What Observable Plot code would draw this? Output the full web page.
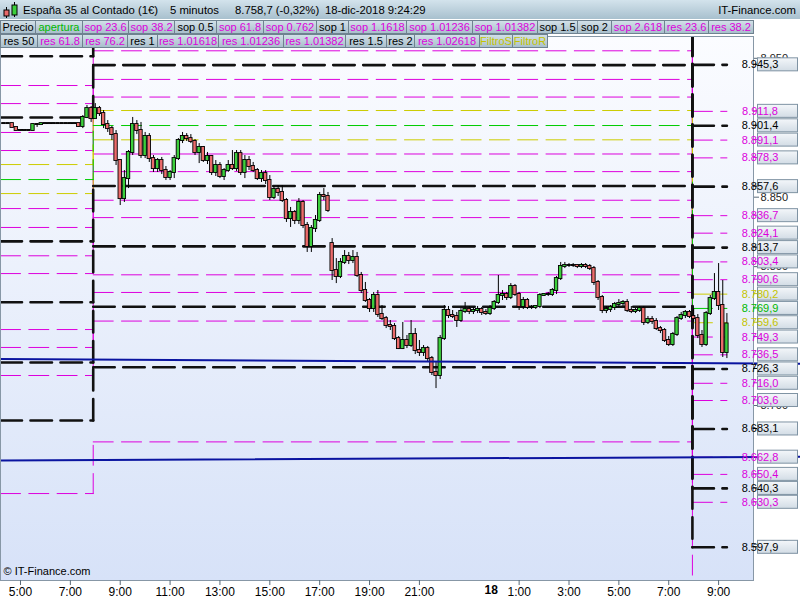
<!DOCTYPE html>
<html>
<head>
<meta charset="utf-8">
<script src="https://cdn.jsdelivr.net/npm/d3@7"></script>
<script src="https://cdn.jsdelivr.net/npm/@observablehq/plot@0.6"></script>
<style>
  html,body{margin:0;padding:0;background:#fff;}
  #wrap{position:relative;width:800px;height:600px;overflow:hidden;font-family:"Liberation Sans",Arial,sans-serif;}
  #chart{position:absolute;left:0;top:0;}
  #title{position:absolute;left:0;top:0;width:800px;height:19px;background:linear-gradient(#d3e3ec,#a8c0ce);color:#000;font-size:11.3px;}
  #title span{position:absolute;top:3px;line-height:15px;white-space:nowrap;}
  .box{position:absolute;box-sizing:border-box;height:14px;border:1px solid #6f8290;background:linear-gradient(#d2e0e8,#a9bfcc);font-size:11px;line-height:12px;text-align:center;white-space:nowrap;overflow:hidden;}
</style>
</head>
<body>
<div id="wrap">
  <div id="chart"></div>
  <div id="title">
    <svg width="20" height="19" style="position:absolute;left:2px;top:0">
      <line x1="4.5" y1="7" x2="4.5" y2="18" stroke="#000"/>
      <rect x="2" y="10" width="5" height="6" fill="#e86a6a" stroke="#000"/>
      <line x1="12.5" y1="2" x2="12.5" y2="17" stroke="#000"/>
      <rect x="10" y="5" width="5" height="10" fill="#3ccf3c" stroke="#000"/>
    </svg>
    <span style="left:23px">España 35 al Contado (1€)</span>
    <span style="left:170px">5 minutos</span>
    <span style="left:235px">8.758,7 (-0,32%)</span>
    <span style="left:325px">18-dic-2018 9:24:29</span>
    <span style="right:4px">IT-Finance.com</span>
  </div>
</div>
<script>
// ---------------- DATA ----------------
// pre-market 10-minute bars, from 04:20 on the 17th
const preStart = "17 04:20";
const preOpen  = [8903,8903,8903,8900.2,8898,8898,8898,8898,8902.3,8902.3,8903,8903,8903,8903,8903,8903,8903,8903,8903,8900.9,8907.4,8913.8];
const preHigh  = [8903,8903,8903,8900.2,8898,8898,8898,8903,8903,8903,8903,8903,8903,8903,8903,8903,8903,8903,8903,8908.8,8916,8915.3];
const preLow   = [8903,8903,8900.2,8898,8898,8898,8898,8898,8900.2,8902.3,8903,8903,8903,8903,8903,8903,8903,8903,8900.2,8899.4,8906.6,8903.8];
const preClose = [8903,8903,8900.2,8898,8898,8898,8898,8902.3,8902.3,8903,8903,8903,8903,8903,8903,8903,8903,8903,8900.9,8907.4,8913.8,8906.6];

// session 10-minute bars, from 08:00 on the 17th to 09:20 on the 18th
const sesStart = "17 08:00";
const sesOpen = [8906.6,8913.8,8910.2,8902.3,8899.4,8895.1,8876.4,8849.0,8863.4,8882.2,8902.3,8898.0,8880.0,8893.7,8877.8,8870.6,8876.4,8869.2,8864.2,8867.8,
8877.8,8890.8,8893.7,8892.2,8890.1,8882.2,8885.8,8876.4,8879.3,8867.8,8872.8,8864.9,8869.2,8872.8,8870.6,8881.4,8867.8,8876.4,8872.1,8869.2,
8863.4,8867.0,8862.0,8849.8,8855.5,8853.4,8847.6,8834.6,8839.0,8833.2,8846.2,8829.6,8814.5,8827.4,8833.2,8851.2,8850.5,8816.6,8797.2,8792.9,
8803.0,8807.3,8804.4,8806.6,8793.6,8782.8,8775.6,8769.8,8779.2,8765.5,8762.6,8757.6,8756.9,8748.2,8741.0,8746.8,8743.2,8751.1,8739.6,8738.2,
8741.0,8733.8,8723.8,8721.6,8748.2,8768.4,8764.8,8764.1,8761.2,8767.7,8769.1,8767.7,8768.4,8769.1,8767.0,8766.2,8769.8,8774.2,8779.2,8779.9,
8777.8,8785.7,8779.9,8771.3,8775.6,8770.6,8770.6,8771.3,8779.2,8779.9,8779.9,8782.8,8791.4,8800.1,8800.8,8800.8,8800.8,8800.1,8800.8,8800.1,
8798.6,8788.6,8777.8,8768.4,8769.1,8770.6,8772.7,8773.4,8774.2,8768.4,8767.7,8768.4,8769.8,8759.8,8761.9,8760.5,8755.4,8754.0,8746.8,8743.9,
8751.1,8762.6,8764.8,8767.0,8764.1,8762.6,8750.4,8743.9,8766.2,8777.0,8781.4,8772.0,8738.2];
const sesHigh = [8917.4,8915.3,8912.4,8905.2,8900.9,8898.0,8876.4,8869.2,8883.6,8907.4,8905.2,8903.8,8896.6,8895.8,8880.0,8877.8,8878.6,8872.1,8869.2,8880.0,
8892.2,8896.6,8895.8,8895.1,8891.5,8888.6,8886.5,8882.2,8880.0,8876.4,8874.9,8870.6,8876.4,8883.6,8883.6,8883.6,8880.0,8879.3,8875.0,8870.6,
8869.2,8869.2,8865.6,8857.7,8858.4,8858.4,8849.0,8842.6,8840.4,8849.0,8847.6,8831.8,8829.6,8836.8,8853.4,8856.2,8853.4,8820.2,8805.8,8805.8,
8811.6,8810.2,8811.6,8810.2,8795.8,8788.6,8777.0,8781.4,8782.8,8772.0,8764.1,8761.2,8759.0,8749.7,8759.8,8750.4,8761.2,8755.4,8746.8,8743.2,
8742.5,8735.3,8731.0,8750.4,8772.0,8771.3,8768.4,8767.0,8769.8,8774.2,8771.3,8770.6,8771.3,8770.6,8769.1,8772.0,8775.6,8793.6,8782.8,8781.4,
8787.8,8787.1,8781.4,8777.8,8777.0,8772.0,8772.0,8780.6,8780.6,8781.4,8784.2,8792.9,8803.0,8803.0,8802.2,8802.2,8801.5,8802.2,8802.2,8801.5,
8800.1,8790.0,8779.2,8771.3,8772.0,8774.2,8776.3,8775.6,8776.3,8771.3,8769.8,8771.3,8771.3,8764.1,8764.1,8762.6,8756.9,8755.4,8749.7,8752.6,
8764.1,8767.0,8768.4,8768.4,8769.8,8765.5,8754.0,8767.7,8779.2,8795.0,8802.2,8790.0,8766.2];
const sesLow = [8906.6,8908.1,8899.4,8896.6,8890.8,8872.8,8844.0,8846.2,8856.2,8880.0,8895.1,8877.8,8877.8,8875.0,8867.8,8867.8,8866.3,8862.0,8862.0,8863.4,
8876.4,8888.6,8890.1,8888.6,8880.0,8874.2,8875.0,8873.5,8865.6,8864.9,8863.4,8862.0,8867.8,8869.2,8868.5,8865.6,8863.4,8869.2,8867.8,8862.0,
8860.6,8859.1,8847.6,8848.3,8850.5,8846.2,8831.8,8828.2,8830.3,8830.3,8827.4,8810.2,8810.2,8824.6,8831.8,8847.6,8839.0,8790.0,8787.8,8791.4,
8801.5,8801.5,8802.2,8792.2,8780.6,8774.2,8767.0,8767.0,8763.4,8761.2,8755.4,8754.0,8746.8,8740.3,8740.3,8741.0,8741.8,8736.7,8735.3,8735.3,
8731.7,8721.6,8712.2,8718.7,8746.8,8762.6,8762.6,8756.2,8759.8,8766.2,8765.5,8765.5,8766.2,8764.8,8764.8,8764.8,8768.4,8772.7,8775.6,8775.6,
8776.3,8778.5,8768.4,8769.1,8769.1,8769.1,8769.1,8769.8,8778.5,8778.5,8778.5,8779.9,8790.0,8798.6,8799.4,8799.4,8798.6,8798.6,8798.6,8797.2,
8786.4,8775.6,8766.2,8766.2,8767.0,8768.4,8770.6,8771.3,8767.0,8766.2,8766.2,8767.0,8757.6,8758.3,8758.3,8754.0,8751.8,8745.4,8742.5,8742.5,
8749.7,8761.2,8762.6,8762.6,8759.8,8748.2,8741.8,8742.5,8764.8,8775.6,8768.4,8734.6,8733.8];
const sesClose = [8913.8,8910.2,8902.3,8899.4,8895.1,8876.4,8849.0,8863.4,8882.2,8902.3,8898.0,8880.0,8893.7,8877.8,8870.6,8876.4,8869.2,8864.2,8867.8,8877.8,
8890.8,8893.7,8892.2,8890.1,8882.2,8885.8,8876.4,8879.3,8867.8,8872.8,8864.9,8869.2,8872.8,8870.6,8881.4,8867.8,8876.4,8872.1,8869.2,8863.4,
8867.0,8862.0,8849.8,8855.5,8853.4,8847.6,8834.6,8839.0,8833.2,8846.2,8829.6,8814.5,8827.4,8833.2,8851.2,8850.5,8840.4,8797.2,8792.9,8803.0,
8807.3,8804.4,8806.6,8793.6,8782.8,8775.6,8769.8,8779.2,8765.5,8762.6,8757.6,8756.9,8748.2,8741.0,8746.8,8743.2,8751.1,8739.6,8738.2,8741.0,
8733.8,8723.8,8721.6,8748.2,8768.4,8764.8,8764.1,8761.2,8767.7,8769.1,8767.7,8768.4,8769.1,8767.0,8766.2,8769.8,8774.2,8779.2,8779.9,8777.8,
8785.7,8779.9,8771.3,8775.6,8770.6,8770.6,8771.3,8779.2,8779.9,8779.9,8782.8,8791.4,8800.1,8800.8,8800.8,8800.8,8800.1,8800.8,8800.1,8798.6,
8788.6,8777.8,8768.4,8769.1,8770.6,8772.7,8773.4,8774.2,8768.4,8767.7,8768.4,8769.8,8759.8,8761.9,8760.5,8755.4,8754.0,8746.8,8743.9,8751.1,
8762.6,8764.8,8767.0,8764.1,8762.6,8750.4,8743.9,8766.2,8777.0,8781.4,8772.0,8738.2,8758.7];
const barMinutes = 10;

// support / resistance levels: previous-day set (A), 17-dic set (B), 18-dic set (C)
const levelNames = ["apertura","FiltroR","FiltroS","res 50","res 1","res 1.5","res 2","sop 0.5","sop 1","sop 1.5","sop 2",
  "res 23.6","res 38.2","res 61.8","res 76.2","res 1.01236","res 1.01382","res 1.01618","res 1.02618",
  "sop 23.6","sop 38.2","sop 61.8","sop 0.762","sop 1.01236","sop 1.01382","sop 1.1618","sop 2.618"];
const levelKinds = ["g","y","y","k","k","k","k","k","k","k","k","m","m","m","m","m","m","m","m","m","m","m","m","m","m","m","m"];
const levelA = [8862.7,8873.5,8852.6,8907.4,8951.5,8995.9,9040.3,8818.2,8774.4,8731.0,8689.2,
  8883.6,8896.6,8917.4,8930.4,8972.5,8985.4,9006.4,9095.2,8841.8,8828.2,8807.8,8795.0,8754.7,8741.8,8721.6,8636.6];
const levelB = [8901.6,8912.4,8891.3,8945.1,8988.6,9032.1,9075.6,8858.1,8814.6,8771.1,8727.6,
  8922.1,8934.8,8955.4,8967.9,9009.2,9021.9,9042.4,9129.4,8881.1,8868.4,8847.8,8835.3,8794.1,8781.4,8760.8,8673.8];
const levelC = [8769.9,8780.2,8759.6,8813.7,8857.6,8901.4,8945.3,8726.3,8683.1,8640.3,8597.9,
  8790.6,8803.4,8824.1,8836.7,8878.3,8891.1,8911.8,8999.2,8749.3,8736.5,8716.0,8703.6,8662.8,8650.4,8630.3,8540.6];
const levelSwitch = ["17 07:55", "18 07:57"];
const levelEnd = "18 09:20";

// blue trend lines (hours since 17-dic 05:00, price)
const trendHours = [-0.80, 31.29];
const trendUpper = [8733.5, 8730.1];
const trendLower = [8660.4, 8663.1];

// axis
const xTickHours = [0,2,4,6,8,10,12,14,16,20,22,24,26,28];
const dayMarkHour = 19, dayMarkLabel = "18";
const yTicks = [8600,8700,8800,8850,8950];

// legend
const legendRow1 = [["Precio","k"],["apertura","g"],["sop 23.6","m"],["sop 38.2","m"],["sop 0.5","k"],["sop 61.8","m"],["sop 0.762","m"],["sop 1","k"],["sop 1.1618","m"],["sop 1.01236","m"],["sop 1.01382","m"],["sop 1.5","k"],["sop 2","k"],["sop 2.618","m"],["res 23.6","m"],["res 38.2","m"]];
const legendRow2 = [["res 50","k"],["res 61.8","m"],["res 76.2","m"],["res 1","k"],["res 1.01618","m"],["res 1.01236","m"],["res 1.01382","m"],["res 1.5","k"],["res 2","k"],["res 1.02618","m"],["FiltroS","y"],["FiltroR","y"]];

// ---------------- LAYOUT / STYLE ----------------
const legendEdges1 = [0,35,82,128,174,216,263,316,348,406,472,537,577,611,664,708,753];
const legendEdges2 = [0,37,82,127,157,218,283,345,386,414,479,512,547];
const TEXTCOL = {k:"#000000", m:"#dc00dc", g:"#00b800", y:"#c4c400"};
const LINECOL = {k:"#111111", m:"#dd00dd", g:"#00cc00", y:"#cccc00"};
const GREEN = "#3ccf3c", RED = "#ec6b6b";

// hours since 17-dic 05:00
function toH(s){ const [d, hm] = s.split(" "); const [h, m] = hm.split(":").map(Number); return (+d - 17) * 24 + h + m / 60 - 5; }

const candles = [];
const step = barMinutes / 60;
preOpen.forEach((o, i) => candles.push({t: toH(preStart) + i * step, open: o, high: preHigh[i], low: preLow[i], close: preClose[i]}));
sesOpen.forEach((o, i) => candles.push({t: toH(sesStart) + i * step, open: o, high: sesHigh[i], low: sesLow[i], close: sesClose[i]}));

const xDomain = [-0.802, 29.40];
const yDomain = [8574.0, 8965.7];
const tS1 = toH(levelSwitch[0]), tS2 = toH(levelSwitch[1]), tE = toH(levelEnd);

function segs(kind){
  const out = [];
  levelNames.forEach((n, i) => {
    if (levelKinds[i] !== kind) return;
    out.push({key:n+"A", t:xDomain[0], v:levelA[i]}, {key:n+"A", t:tS1, v:levelA[i]});
    out.push({key:n+"AB", t:tS1, v:levelA[i]}, {key:n+"AB", t:tS1, v:levelB[i]});
    out.push({key:n+"B", t:tS1, v:levelB[i]}, {key:n+"B", t:tS2, v:levelB[i]});
    out.push({key:n+"BC", t:tS2, v:levelB[i]}, {key:n+"BC", t:tS2, v:levelC[i]});
    out.push({key:n+"C", t:tS2, v:levelC[i]}, {key:n+"C", t:tE, v:levelC[i]});
  });
  return out;
}
const trends = [];
trendHours.forEach((t, i) => { trends.push({key:"u", t, v:trendUpper[i]}); trends.push({key:"l", t, v:trendLower[i]}); });

const loc = d3.formatLocale({decimal: ",", thousands: ".", grouping: [3], currency: ["", ""]});
const fmt1 = loc.format(",.1f"), fmt0 = loc.format(",.0f");

const plot = Plot.plot({
  width: 800, height: 600,
  marginLeft: 0, marginRight: 47, marginTop: 36, marginBottom: 20,
  x: {domain: xDomain, axis: null},
  y: {domain: yDomain, axis: null},
  style: {fontFamily: "Liberation Sans, Arial, sans-serif", fontSize: "11px", background: "transparent", overflow: "visible"},
  marks: [
    Plot.frame({fill: "url(#bgGrad)"}),
    Plot.line(segs("m"), {x:"t", y:"v", z:"key", stroke: LINECOL.m, strokeWidth: 1, strokeDasharray: "20,8.3", clip: true}),
    Plot.line(segs("y"), {x:"t", y:"v", z:"key", stroke: LINECOL.y, strokeWidth: 1, strokeDasharray: "20,8.3", clip: true}),
    Plot.line(segs("g"), {x:"t", y:"v", z:"key", stroke: LINECOL.g, strokeWidth: 1, strokeDasharray: "20,8.3", clip: true}),
    Plot.line(segs("k"), {x:"t", y:"v", z:"key", stroke: LINECOL.k, strokeWidth: 2.6, strokeDasharray: "21.5,8.5", clip: true}),
    Plot.ruleX(candles, {x:"t", y1:"low", y2:"high", stroke:"#000", strokeWidth: 1}),
    Plot.rect(candles, {x1: d => d.t - 0.068, x2: d => d.t + 0.068, y1:"open", y2:"close",
      insetTop: -0.5, insetBottom: -0.5,
      fill: d => d.close > d.open ? GREEN : d.close < d.open ? RED : "#000", stroke:"#000", strokeWidth: 0.9}),
    Plot.line(trends, {x:"t", y:"v", z:"key", stroke:"#0a14a0", strokeWidth: 2, clip: false}),
    Plot.frame({stroke: "#8797a6"}),
    Plot.axisX({ticks: xTickHours, tickFormat: h => ((5 + h) % 24) + ":00", tickSize: 5, tickPadding: 2, fontSize: 12, label: null, stroke: "#5a6b7a", fill: "#000"}),
    Plot.text([dayMarkLabel], {x: () => dayMarkHour, text: d => d, frameAnchor: "bottom", dy: 13, dx: -3, fontWeight: "bold", fontSize: 12}),
    Plot.axisY({anchor: "right", ticks: yTicks, tickFormat: fmt0, tickSize: 5, tickPadding: 2, label: null, stroke: "#5a6b7a", fill: "#222"}),
    Plot.text(["© IT-Finance.com"], {frameAnchor: "bottom-left", dx: 3, dy: -6, textAnchor: "start", fontSize: 11})
  ]
});

d3.select(plot).insert("defs", ":first-child").html(
  `<linearGradient id="bgGrad" x1="0" y1="0" x2="0" y2="1"><stop offset="0" stop-color="#fbfcff"/><stop offset="1" stop-color="#d7e2f8"/></linearGradient>
   <linearGradient id="boxGrad" x1="0" y1="0" x2="0" y2="1"><stop offset="0" stop-color="#f4f7fa"/><stop offset="1" stop-color="#d2dce5"/></linearGradient>`);

// level value labels on the right axis
const ys = plot.scale("y");
const g = d3.select(plot).append("g");
levelC.forEach((v, i) => {
  if (v < yDomain[0] || v > yDomain[1]) return;
  const y = ys.apply(v), kind = levelKinds[i];
  g.append("line").attr("x1", 753).attr("x2", 758).attr("y1", y).attr("y2", y).attr("stroke", TEXTCOL[kind]);
  g.append("rect").attr("x", 757.5).attr("y", y - 6.5).attr("width", 40).attr("height", 13)
    .attr("fill", "url(#boxGrad)").attr("stroke", "#7f93a3");
  g.append("text").attr("x", 760).attr("y", y).attr("dy", "0.36em").attr("font-size", 11)
    .attr("fill", TEXTCOL[kind]).text(fmt1(v));
});

document.getElementById("chart").appendChild(plot);

// legend rows
const wrap = document.getElementById("wrap");
function row(items, edges, top){
  items.forEach(([name, kind], i) => {
    const b = document.createElement("div");
    b.className = "box";
    b.style.left = edges[i] + "px";
    b.style.width = (edges[i + 1] - edges[i] + 1) + "px";
    b.style.top = top + "px";
    b.style.color = TEXTCOL[kind];
    b.textContent = name;
    wrap.appendChild(b);
  });
}
row(legendRow1, legendEdges1, 20);
row(legendRow2, legendEdges2, 34);
</script>
</body>
</html>
